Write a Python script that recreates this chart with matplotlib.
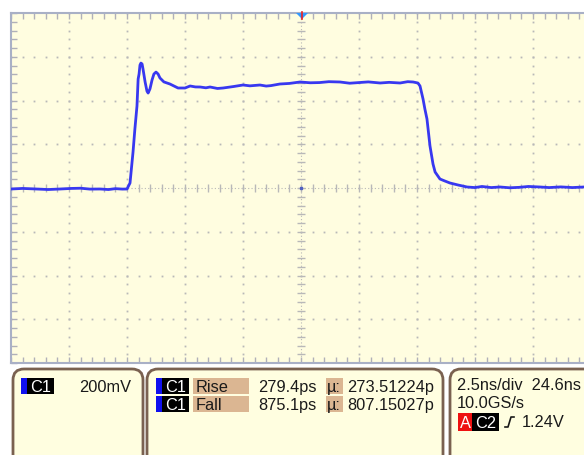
import numpy as np
import matplotlib
matplotlib.use("Agg")
import matplotlib.pyplot as plt
from matplotlib.patches import FancyBboxPatch, Rectangle, Polygon

plt.rcParams['font.family'] = ['Liberation Sans', 'DejaVu Sans']

# trace: time in ns, voltage in mV (relative to centre line)
t_ns = [12.10, 12.60, 13.20, 13.70, 14.21, 14.70, 15.10, 15.50, 15.94, 16.30,
        16.60, 16.90, 17.10, 17.23, 17.36, 17.44, 17.53, 17.58, 17.62, 17.66,
        17.70, 17.75, 17.79, 17.88, 17.96, 18.01, 18.09, 18.18, 18.26, 18.35,
        18.44, 18.52, 18.69, 18.95, 19.30, 19.60,
        19.82, 20.05, 20.25, 20.50, 20.68, 21.00, 21.24, 21.50, 21.70, 22.10,
        22.40, 22.83, 23.10, 23.30, 23.69, 24.10, 24.56, 25.00, 25.40, 25.80,
        26.28, 26.70, 27.10, 27.50, 28.01, 28.40, 28.87, 29.20, 29.43, 29.64,
        29.73, 29.86, 29.94, 30.03, 30.16, 30.29, 30.38, 30.59, 30.80, 31.02,
        31.37, 31.76, 32.10, 32.40, 32.80, 33.18, 33.60, 34.00, 34.40, 34.90,
        35.30, 35.80, 36.30, 36.80, 37.10]
v_mv = [-4.6, -2.0, -4.6, -7.0, -4.6, -2.0, -1.0, -5.0, -4.6, -7.0,
        -3.0, -5.0, -4.6, 22.9, 164.6, 269.7, 374.8, 498.0, 521.0, 562.0,
        571.0, 567.0, 544.0, 485.0, 443.0, 434.0, 453.0, 494.0, 521.0, 530.0,
        521.0, 503.0, 485.0, 475.4, 457.1, 457.1,
        466.3, 462.0, 461.7, 458.0, 461.7, 455.0, 457.1, 461.0, 464.0, 470.8,
        467.0, 470.8, 466.0, 468.0, 475.4, 478.0, 484.6, 481.0, 482.0, 486.0,
        484.6, 479.0, 482.0, 485.0, 480.0, 483.0, 480.0, 486.0, 484.6, 480.0,
        466.3, 406.9, 361.1, 315.4, 192.0, 109.7, 73.1, 41.1, 32.0, 22.9,
        13.7, 4.6, 2.0, 7.0, 2.0, 4.6, 1.0, 3.0, 7.0, 4.6,
        2.0, 5.0, 2.0, 4.6, 4.6]

t_center = 24.6
ns_per_div = 2.5
mv_per_div = 200

ch_scale = "200mV"
meas_names = ["Rise", "Fall"]
meas_vals = ["279.4ps", "875.1ps"]
meas_means = ["273.51224p", "807.15027p"]
timebase = "2.5ns/div  24.6ns"
samplerate = "10.0GS/s"
trig_level = "1.24V"

W, H = 584, 456
fig = plt.figure(figsize=(W / 100, H / 100), dpi=100)
fig.patch.set_facecolor("white")

bg = "#fffde0"
grid_c = "#b8b8b8"
frame_c = "#a9b0c6"

# main screen: 10 x 8 divisions, right side cut by the image edge
ax = fig.add_axes([11 / W, 92 / H, 580 / W, 350 / H])
ax.set_facecolor(bg)
x0, x1 = t_center - 5 * ns_per_div, t_center + 5 * ns_per_div
y0, y1 = -4 * mv_per_div, 4 * mv_per_div
ax.set_xlim(x0, x1)
ax.set_ylim(y0, y1)

major_x = t_center + ns_per_div * np.arange(-5, 6)
major_y = mv_per_div * np.arange(-4, 5)
minor_x = t_center + ns_per_div / 5 * np.arange(-25, 26)
minor_y = mv_per_div / 5 * np.arange(-20, 21)

# dotted graticule
for gx in major_x[1:-1]:
    if gx == t_center:
        continue
    ax.plot(np.full_like(minor_y, gx), minor_y, ls="none", marker="s", ms=1.3,
            mec="none", mfc=grid_c, zorder=1)
for gy in major_y[1:-1]:
    if gy == 0:
        continue
    ax.plot(minor_x, np.full_like(minor_x, gy), ls="none", marker="s", ms=1.3,
            mec="none", mfc=grid_c, zorder=1)

# centre cross with ticks
ax.plot([x0, x1], [0, 0], color=grid_c, lw=0.8, ls=(0, (1, 2)), zorder=1)
ax.plot([t_center, t_center], [y0, y1], color=grid_c, lw=0.8, ls=(0, (1, 2)), zorder=1)
ax.plot(minor_x, np.zeros_like(minor_x), ls="none", marker="|", ms=6, mew=1.0,
        color=grid_c, zorder=1)
ax.plot(np.full_like(minor_y, t_center), minor_y, ls="none", marker="_", ms=6, mew=1.0,
        color=grid_c, zorder=1)
ax.plot([t_center], [0], ls="none", marker="s", ms=2, color="#5060c0", zorder=1)

# edge ticks
ax.set_xticks(minor_x, minor=True)
ax.set_yticks(minor_y, minor=True)
ax.set_xticks([])
ax.set_yticks([])
ax.tick_params(which="minor", direction="in", length=4, width=1, color="#b0b0b8",
               top=True, bottom=True, left=True, right=True,
               labelbottom=False, labelleft=False)
for s in ax.spines.values():
    s.set_color(frame_c)
    s.set_linewidth(1.5)

ax.plot(t_ns, v_mv, color="#3838f0", lw=2.0, zorder=3, solid_joinstyle="round")

# overlay in pixel units for the readout panels
ov = fig.add_axes([0, 0, 1, 1], zorder=5)
ov.set_xlim(0, W)
ov.set_ylim(H, 0)
ov.axis("off")
ov.patch.set_alpha(0)

# trigger marker
ov.add_patch(Polygon([(296, 14), (308, 14), (302, 20)], closed=True,
                     fc="#3399ff", ec="none"))
ov.plot([302, 302], [13, 20], color="#ee2222", lw=1.2)

brown = "#7a6150"
for bx0, bx1 in [(13, 143), (147, 443), (450, 600)]:
    ov.add_patch(FancyBboxPatch((bx0, 370), bx1 - bx0, 110,
                                boxstyle="round,pad=0,rounding_size=11",
                                fc="#fffee0", ec=brown, lw=2))

fs = 11.8
tan = "#dbb692"
txt_c = "#1a1a1a"


def chan_tag(x, y, label, bar="#1010ee"):
    ov.add_patch(Rectangle((x, y), 6, 16, fc=bar, ec="none"))
    ov.add_patch(Rectangle((x + 6, y), 27, 16, fc="black", ec="none"))
    ov.text(x + 19.5, y + 8.5, label, color="white", fontsize=fs,
            ha="center", va="center")


chan_tag(21, 379, "C1")
ov.text(79, 387.5, ch_scale, color=txt_c, fontsize=fs, va="center")

for i, (nm, val, mu) in enumerate(zip(meas_names, meas_vals, meas_means)):
    yy = 379 + 18 * i
    chan_tag(156, yy, "C1")
    ov.add_patch(Rectangle((193, yy), 56, 16, fc=tan, ec="none"))
    ov.text(196, yy + 8.5, nm, color=txt_c, fontsize=fs, va="center")
    ov.text(258, yy + 8.5, val, color=txt_c, fontsize=fs, va="center")
    ov.add_patch(Rectangle((326, yy), 17, 16, fc=tan, ec="none"))
    ov.text(327, yy + 8.5, "µ:", color=txt_c, fontsize=fs, va="center")
    ov.text(347, yy + 8.5, mu, color=txt_c, fontsize=fs, va="center")

ov.text(457, 385.5, timebase, color=txt_c, fontsize=fs, va="center")
ov.text(457, 403.5, samplerate, color=txt_c, fontsize=fs, va="center")
ov.add_patch(Rectangle((458, 414), 14, 18, fc="#ee1111", ec="none"))
ov.text(465, 423.5, "A", color="white", fontsize=fs, ha="center", va="center")
ov.add_patch(Rectangle((472, 414), 27, 18, fc="black", ec="none"))
ov.text(485.5, 423.5, "C2", color="white", fontsize=fs, ha="center", va="center")
ov.plot([505, 508, 509.5, 511, 514], [428, 428, 423, 418, 418],
        color=txt_c, lw=1.2)
ov.text(522, 422.5, trig_level, color=txt_c, fontsize=fs, va="center")

fig.savefig("out.png", dpi=100)
